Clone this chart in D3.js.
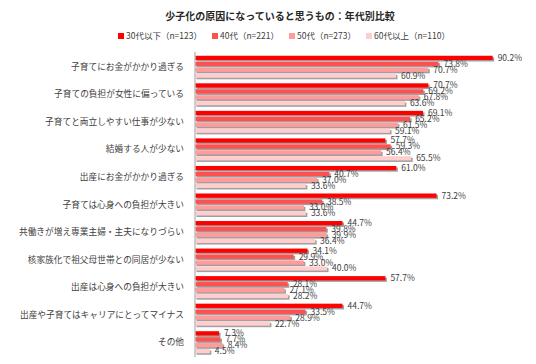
<!DOCTYPE html>
<html lang="ja">
<head>
    <meta charset="UTF-8">
    <title>少子化の原因</title>
    <script src="https://cdnjs.cloudflare.com/ajax/libs/d3/7.8.5/d3.min.js"></script>
    <style>
        body { margin: 0; background: #fff; font-family: "Noto Sans CJK JP", "Noto Sans", sans-serif; }
    </style>
</head>
<body>
<div id="chart"></div>
<script>

    // Categories (top to bottom)
    const categories = [
        '子育てにお金がかかり過ぎる',
        '子育ての負担が女性に偏っている',
        '子育てと両立しやすい仕事が少ない',
        '結婚する人が少ない',
        '出産にお金がかかり過ぎる',
        '子育ては心身への負担が大きい',
        '共働きが増え専業主婦・主夫になりづらい',
        '核家族化で祖父母世帯との同居が少ない',
        '出産は心身への負担が大きい',
        '出産や子育てはキャリアにとってマイナス',
        'その他'
    ];

    // Series names (legend)
    const seriesNames = ['30代以下（n=123）', '40代（n=221）', '50代（n=273）', '60代以上（n=110）'];
    const colours = ['#ff0000', '#ff5050', '#ff9b9b', '#ffcdcd'];

    // Values per series, in percent
    const age30 = [90.2, 70.7, 69.1, 57.7, 61.0, 73.2, 44.7, 34.1, 57.7, 44.7, 7.3];
    const age40 = [73.8, 69.2, 65.2, 59.3, 40.7, 38.5, 39.8, 29.9, 28.1, 33.5, 7.7];
    const age50 = [70.7, 67.8, 61.5, 56.4, 37.0, 33.0, 39.9, 33.0, 27.1, 28.9, 8.4];
    const age60 = [60.9, 63.6, 59.1, 65.5, 33.6, 33.6, 36.4, 40.0, 28.2, 22.7, 4.5];

    const series = [age30, age40, age50, age60];

    const width = 536;
    const height = 364;

    const svg = d3.select('#chart')
        .append('svg')
        .attr('width', width)
        .attr('height', height);

    // Title
    svg.append('text')
        .attr('x', 280)
        .attr('y', 20)
        .attr('text-anchor', 'middle')
        .attr('font-size', 10)
        .attr('font-weight', 'bold')
        .attr('fill', '#262626')
        .text('少子化の原因になっていると思うもの：年代別比較');

    // Legend, centred as a whole
    const legend = svg.append('g').attr('class', 'legend');
    const items = legend.selectAll('g')
        .data(seriesNames)
        .enter()
        .append('g');

    items.append('rect')
        .attr('width', 6)
        .attr('height', 6)
        .attr('y', -3)
        .attr('fill', (d, i) => colours[i]);

    items.append('text')
        .attr('x', 8)
        .attr('dy', '0.35em')
        .attr('font-size', 8.5)
        .attr('fill', '#404040')
        .text(d => d);

    let lx = 0;
    items.each(function() {
        const g = d3.select(this);
        g.attr('transform', `translate(${lx},0)`);
        lx += 8 + g.select('text').node().getComputedTextLength() + 10;
    });
    legend.attr('transform', `translate(${284 - (lx - 10) / 2},36)`);

    // Scales
    const x = d3.scaleLinear()
        .domain([0, 100])
        .range([195, 525]);

    const y = d3.scaleBand()
        .domain(categories)
        .range([53, 356])
        .paddingInner(0.2)
        .paddingOuter(0.1);

    const ySub = d3.scaleBand()
        .domain(d3.range(series.length))
        .range([0, y.bandwidth()])
        .paddingInner(0.28);

    // Category labels
    svg.append('g')
        .selectAll('text')
        .data(categories)
        .enter()
        .append('text')
        .attr('x', 184)
        .attr('y', d => y(d) + y.bandwidth() / 2)
        .attr('dy', '0.35em')
        .attr('text-anchor', 'end')
        .attr('font-size', 8.7)
        .attr('fill', '#404040')
        .text(d => d);

    // Flatten values into one list of bars
    const bars = [];
    categories.forEach((c, ci) => {
        series.forEach((s, si) => {
            bars.push({ cat: c, s: si, v: s[ci] });
        });
    });

    const barY = d => y(d.cat) + ySub(d.s);

    // Shadows
    svg.append('g')
        .selectAll('rect')
        .data(bars)
        .enter()
        .append('rect')
        .attr('x', x(0) + 1.5)
        .attr('y', d => barY(d) + 1.5)
        .attr('width', d => x(d.v) - x(0))
        .attr('height', ySub.bandwidth())
        .attr('fill', '#7f7f7f')
        .attr('opacity', 0.75);

    // Bars
    svg.append('g')
        .selectAll('rect')
        .data(bars)
        .enter()
        .append('rect')
        .attr('x', x(0))
        .attr('y', barY)
        .attr('width', d => x(d.v) - x(0))
        .attr('height', ySub.bandwidth())
        .attr('fill', d => colours[d.s]);

    // Value labels
    svg.append('g')
        .selectAll('text')
        .data(bars)
        .enter()
        .append('text')
        .attr('x', d => x(d.v) + 5)
        .attr('y', d => barY(d) + ySub.bandwidth() / 2)
        .attr('dy', '0.35em')
        .attr('font-size', 8.5)
        .attr('fill', '#404040')
        .text(d => d.v.toFixed(1) + '%');

    // Vertical axis line
    svg.append('line')
        .attr('x1', x(0))
        .attr('x2', x(0))
        .attr('y1', 52)
        .attr('y2', 357)
        .attr('stroke', '#bfbfbf')
        .attr('stroke-width', 1.5);

</script>
</body>
</html>
